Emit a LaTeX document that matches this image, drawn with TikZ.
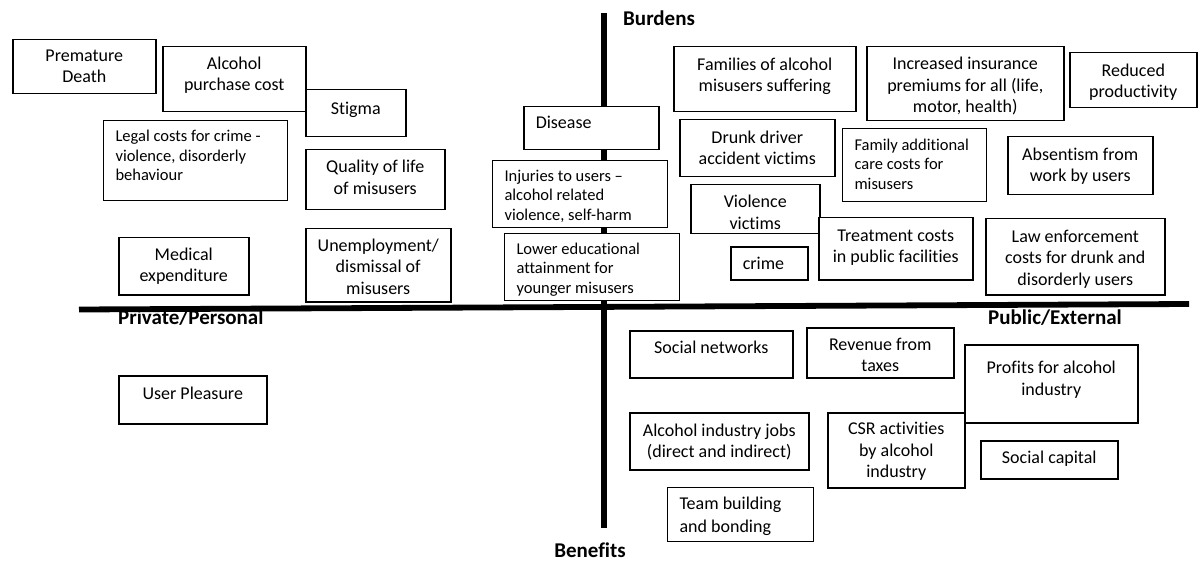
\documentclass[tikz,border=0pt]{standalone}
\usepackage{fontspec}
\setmainfont[Ligatures=NoCommon]{Carlito}
\newcommand\fA{\fontsize{18}{21.5}\selectfont}
\newcommand\fB{\fontsize{16.5}{19.5}\selectfont}
\newcommand\bt[5]{\parbox[c][#2pt][t]{#1pt}{#4\rule{0pt}{#3pt}#5}}
\newcommand\myC{\centering}
\newcommand\myL{\raggedright\leftskip=12pt}
\begin{document}
\begin{tikzpicture}[x=1pt,y=-1pt,
  box/.style={draw, fill=white, line width=1.5pt, inner sep=0pt, anchor=north west, font=\fA},
  thinbox/.style={box, line width=1.1pt},
  axis/.style={line width=5.8pt},
  lbl/.style={anchor=base west, inner sep=0pt, font=\fontsize{21}{24}\selectfont\bfseries}]
\fill[white] (0,0) rectangle (1198,561);
\useasboundingbox (0,0) rectangle (1198,561);
% axes
\coordinate (hl) at (79,309.5);
\coordinate (hr) at (1189,304);
\coordinate (vt) at (604,13);
\coordinate (vb) at (604,528);
\draw[axis] (hl) -- (hr);
\draw[axis] (vt) -- (vb);
% axis labels
\node[lbl] (burdens) at (623,25.3) {Burdens};
\node[lbl] (private) at (118,324) {Private/Personal};
\node[lbl] (public) at (988,324) {Public/External};
\node[lbl, anchor=base east] (benefits) at (626,557) {Benefits};
% private burdens
\node[box] (premature) at (12,39) {\bt{143}{54}{21.7}{\myC}{Premature\\Death}};
\node[box] (purchase) at (162,46) {\bt{143}{65}{22.6}{\myC}{Alcohol\\purchase cost}};
\node[box] (stigma) at (305,89) {\bt{100}{47}{24.6}{\myC}{Stigma}};
\node[thinbox] (legal) at (103,120) {\bt{184}{80}{21}{\fB\myL}{Legal costs for crime -\\violence, disorderly\\behaviour}};
\node[box] (quality) at (305,149) {\bt{139}{60}{23}{\myC}{Quality of life\\of misusers}};
\node[box] (medical) at (118,237) {\bt{130}{57}{22.6}{\myC}{Medical\\expenditure}};
\node[box] (unemp) at (305,228) {\bt{145}{73}{22.6}{\myC}{Unemployment/\\dismissal of\\misusers}};
% private benefits
\node[box] (pleasure) at (118,375) {\bt{148}{48}{23.6}{\myC}{User Pleasure}};
% centre column
\node[box] (disease) at (523,106) {\bt{135}{43}{22}{\myL}{Disease}};
\node[thinbox] (injuries) at (492,160) {\bt{175}{67}{20.5}{\fB\myL}{Injuries to users --\\alcohol related\\violence, self-harm}};
\node[thinbox] (educ) at (504,233) {\bt{175}{67}{20.5}{\fB\myL}{Lower educational\\attainment for\\younger misusers}};
% public burdens
\node[box] (families) at (673,46) {\bt{182}{65}{23.6}{\myC}{Families of alcohol\\misusers suffering}};
\node[box] (drunk) at (679,119) {\bt{155}{57}{23.3}{\myC}{Drunk driver\\accident victims}};
\node[box] (violence) at (690,184) {\bt{129}{49}{23}{\myC}{Violence\\victims}};
\node[box] (crime) at (730,246) {\bt{77}{33}{22.3}{\myL}{crime}};
\node[box] (treatment) at (818,217) {\bt{154}{62}{23.6}{\myC}{Treatment costs\\in public facilities}};
\node[thinbox] (familycare) at (842,128) {\bt{144}{73}{21.5}{\fB\myL}{Family additional\\care costs for\\misusers}};
\node[box] (insurance) at (866,46) {\bt{197}{74}{23}{\myC}{Increased insurance\\premiums for all (life,\\motor, health)}};
\node[box] (productivity) at (1069,52) {\bt{127}{55}{23.6}{\myC}{Reduced\\productivity}};
\node[box] (absentism) at (1007,136) {\bt{145}{58}{23.6}{\myC}{Absentism from\\work by users}};
\node[box] (law) at (985,218) {\bt{179}{76}{23.3}{\myC}{Law enforcement\\costs for drunk and\\disorderly users}};
% public benefits
\node[box] (networks) at (629,330) {\bt{163}{47}{23}{\myC}{Social networks}};
\node[box] (revenue) at (806,327) {\bt{147}{50}{22.6}{\myC}{Revenue from\\taxes}};
\node[box] (profits) at (964,344) {\bt{173}{78}{29}{\myC}{Profits for alcohol\\industry}};
\node[box] (jobs) at (629,412) {\bt{179}{57}{23.3}{\myC}{Alcohol industry jobs\\(direct and indirect)}};
\node[box] (csr) at (827,412) {\bt{137}{75}{22}{\myC}{CSR activities\\by alcohol\\industry}};
\node[box] (capital) at (980,440) {\bt{137}{38}{23}{\myC}{Social capital}};
\node[thinbox] (team) at (667,487) {\bt{146}{54}{22}{\fontsize{18}{23}\selectfont\myL}{Team building\\and bonding}};
\end{tikzpicture}
\end{document}
